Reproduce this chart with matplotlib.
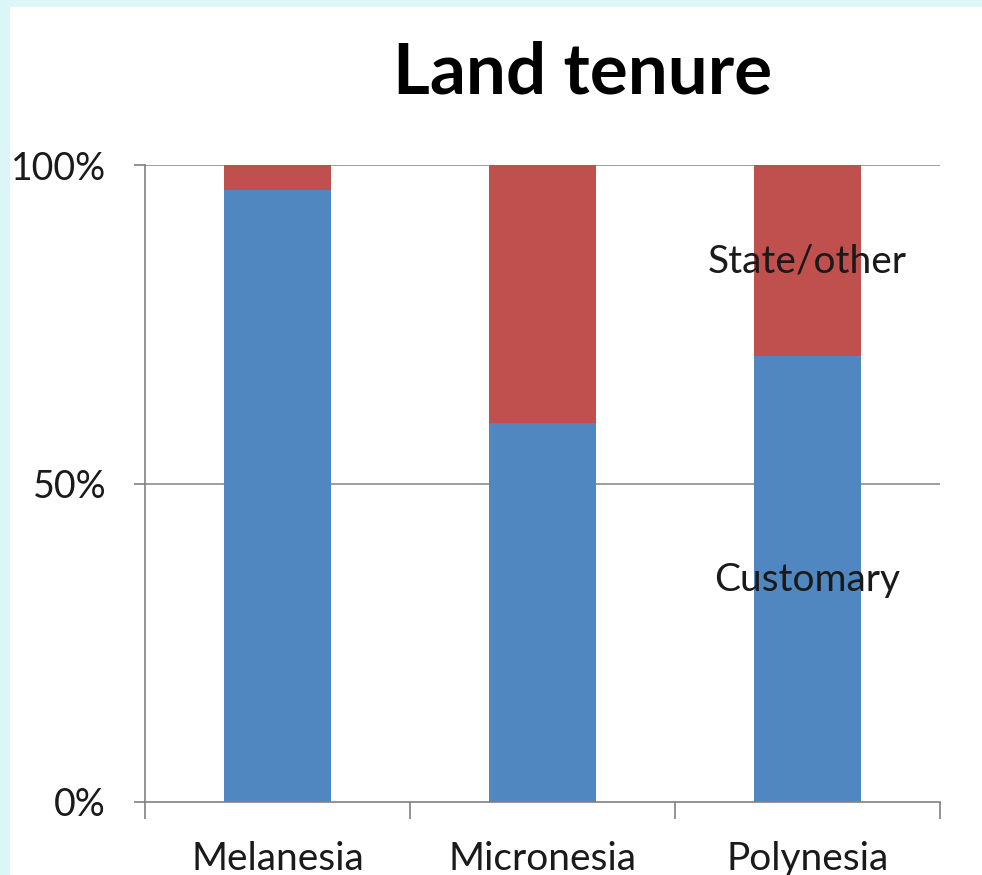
import matplotlib.pyplot as plt
from matplotlib.patches import Rectangle
import numpy as np

REGIONS = ['Melanesia', 'Micronesia', 'Polynesia']
CUSTOMARY = [0.96, 0.595, 0.70]
STATE_OTHER = [0.04, 0.405, 0.30]
Y_TICKS = [0, 0.5, 1.0]
Y_LABELS = ['0%', '50%', '100%']

BLUE = '#5087C1'
RED = '#C0504D'
FONT = ['Lato', 'DejaVu Sans']

def main():
    plt.rcParams['font.family'] = FONT

    fig = plt.figure(figsize=(9.82, 8.75), dpi=100)
    fig.patch.set_facecolor('#dcf5f6')
    # white slide area, behind everything
    fig.patches.append(Rectangle((10/982, 0), 1, 1 - 7/875, transform=fig.transFigure,
                                 facecolor='white', edgecolor='none', zorder=-10))

    ax = fig.add_axes([145/982, 1 - 802/875, 795/982, 637/875])
    ax.set_facecolor('none')

    x = np.arange(len(REGIONS))
    ax.bar(x, CUSTOMARY, width=0.405, color=BLUE, zorder=2)
    ax.bar(x, STATE_OTHER, width=0.405, bottom=CUSTOMARY, color=RED, zorder=2)

    ax.set_xlim(-0.5, 2.5)
    ax.set_ylim(0, 1)
    ax.set_yticks(Y_TICKS)
    ax.set_yticklabels(Y_LABELS, fontsize=27, color='#1a1a1a')
    ax.set_xticks(x)
    ax.set_xticklabels(REGIONS, fontsize=28, color='#1a1a1a')
    ax.tick_params(axis='x', length=0, pad=28)
    ax.tick_params(axis='y', length=8, width=1.2, color='#808080', pad=20)
    ax.set_xticks([-0.5, 0.5, 1.5, 2.5], minor=True)
    ax.tick_params(axis='x', which='minor', length=12, width=1.2, color='#808080')

    for s in ['top', 'right']:
        ax.spines[s].set_visible(False)
    for s in ['left', 'bottom']:
        ax.spines[s].set_color('#808080')
        ax.spines[s].set_linewidth(1.2)

    for yv in Y_TICKS[1:]:
        ax.axhline(yv, color='#8c8c8c', linewidth=1.2, zorder=1)

    ax.text(2, 0.848, 'State/other', ha='center', va='center', fontsize=28, color='#1a1a1a', zorder=3)
    ax.text(2, 0.348, 'Customary', ha='center', va='center', fontsize=28, color='#1a1a1a', zorder=3)

    fig.text(583/982, 1 - 73/875, 'Land tenure', ha='center', va='center',
             fontsize=51, fontweight='bold', color='black')

    fig.savefig('out.png', dpi=100, facecolor=fig.get_facecolor())

if __name__ == '__main__':
    main()
